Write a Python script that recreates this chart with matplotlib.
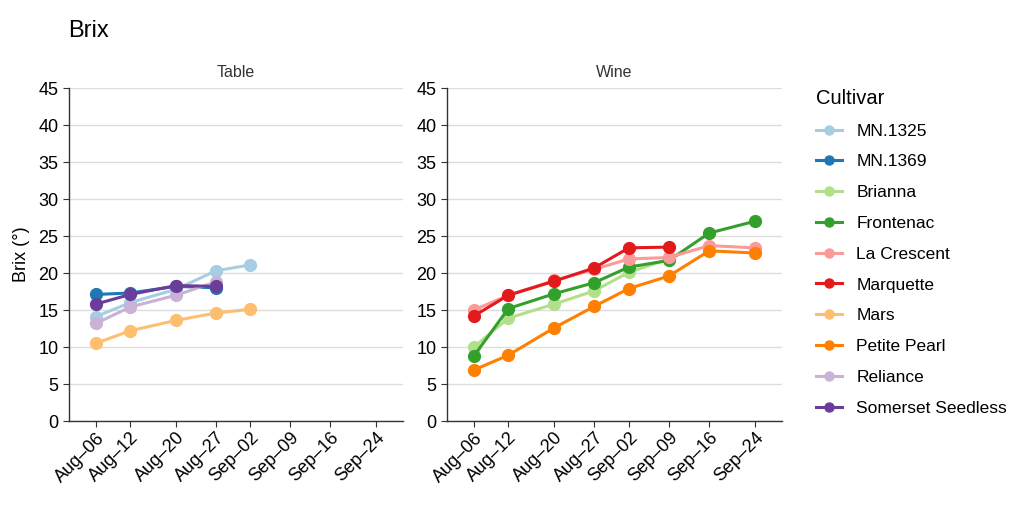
import matplotlib
matplotlib.use("Agg")
import matplotlib.pyplot as plt
import matplotlib.dates as mdates
import numpy as np
from matplotlib.lines import Line2D

plt.rcParams['font.family'] = ['Liberation Sans', 'DejaVu Sans']

cultivars = ["MN.1325", "MN.1369", "Brianna", "Frontenac", "La Crescent",
             "Marquette", "Mars", "Petite Pearl", "Reliance", "Somerset Seedless"]
colors = ["#a6cee3", "#1f78b4", "#b2df8a", "#33a02c", "#fb9a99",
          "#e31a1c", "#fdbf6f", "#ff7f00", "#cab2d6", "#6a3d9a"]

dates = ["2023-08-06", "2023-08-12", "2023-08-20", "2023-08-27",
         "2023-09-02", "2023-09-09", "2023-09-16", "2023-09-24"]
tick_labels = ["Aug\u201306", "Aug\u201312", "Aug\u201320", "Aug\u201327",
               "Sep\u201302", "Sep\u201309", "Sep\u201316", "Sep\u201324"]

# Table cultivars
table_mn1325 = [14.1, 16.0, 17.8, 20.3, 21.1]
table_mn1369 = [17.1, 17.3, 18.2, 18.0]
table_mars = [10.5, 12.2, 13.6, 14.6, 15.1]
table_reliance = [13.2, 15.4, 17.0, 18.8]
table_somerset = [15.8, 17.1, 18.3, 18.2]

# Wine cultivars
wine_brianna = [10.0, 13.9, 15.8, 17.6, 20.1, 21.9]
wine_frontenac = [8.8, 15.2, 17.2, 18.7, 20.8, 21.7, 25.4, 27.0]
wine_lacrescent = [15.0, 17.0, 19.0, 20.5, 21.9, 22.1, 23.7, 23.4]
wine_marquette = [14.2, 17.0, 18.9, 20.7, 23.4, 23.5]
wine_petite = [6.9, 8.9, 12.6, 15.5, 17.9, 19.6, 23.0, 22.7]

table_series = {"MN.1325": table_mn1325, "MN.1369": table_mn1369,
                "Mars": table_mars, "Reliance": table_reliance,
                "Somerset Seedless": table_somerset}
wine_series = {"Brianna": wine_brianna, "Frontenac": wine_frontenac,
               "La Crescent": wine_lacrescent, "Marquette": wine_marquette,
               "Petite Pearl": wine_petite}

dt = np.array(dates, dtype="datetime64[D]")
xd = mdates.date2num(dt.astype("datetime64[s]").astype(object))

fig = plt.figure(figsize=(10.24, 5.12), dpi=100)
ax1 = fig.add_axes([0.0674, 0.1777, 0.3262, 0.6504])
ax2 = fig.add_axes([0.4365, 0.1777, 0.3272, 0.6504])

col = dict(zip(cultivars, colors))
spine_c = "#333333"

for ax, series, title in [(ax1, table_series, "Table"), (ax2, wine_series, "Wine")]:
    for name in cultivars:
        if name in series:
            v = series[name]
            ax.plot(xd[:len(v)], v, color=col[name], lw=2.2, marker='o',
                    markersize=8.5, zorder=3, solid_capstyle='round')
    ax.set_ylim(0, 45)
    ax.set_yticks(np.arange(0, 46, 5))
    ax.set_xlim(xd[0] - 4.7, xd[-1] + 4.7)
    ax.set_xticks(xd)
    ax.set_xticklabels(tick_labels, rotation=45, ha='right', rotation_mode='anchor')
    ax.grid(axis='y', color='#dddddd', lw=1)
    ax.set_axisbelow(True)
    for s in ['top', 'right']:
        ax.spines[s].set_visible(False)
    for s in ['left', 'bottom']:
        ax.spines[s].set_color(spine_c)
        ax.spines[s].set_linewidth(1)
    ax.tick_params(axis='both', colors=spine_c, labelcolor='black', labelsize=13, length=4)
    ax.tick_params(axis='x', pad=2)
    ax.set_title(title, fontsize=11.5, color='#333333', pad=8)

ax1.set_ylabel("Brix (\u00b0)", fontsize=13, labelpad=6)
fig.text(0.067, 0.94, "Brix", fontsize=17, ha='left', va='center')

handles = [Line2D([0], [0], color=c, lw=2.2, marker='o', markersize=6.5) for c in colors]
leg = fig.legend(handles, cultivars, loc='upper left', bbox_to_anchor=(0.782, 0.857),
                 frameon=False, fontsize=12.5, title="Cultivar", title_fontsize=14.5,
                 handlelength=1.45, labelspacing=0.9, handletextpad=0.85, alignment='left')

fig.savefig("out.png", dpi=100)
